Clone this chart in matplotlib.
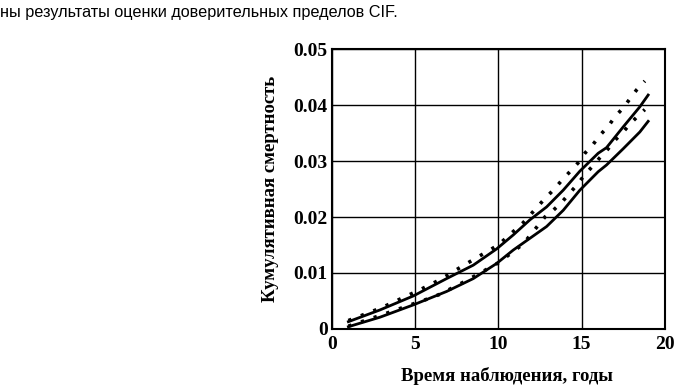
import matplotlib
matplotlib.use('Agg')
import matplotlib.pyplot as plt

# values
x_solid = [1.0, 2.9, 4.9, 6.9, 8.5, 9.9, 10.9, 11.9, 12.9, 13.9, 14.9, 16.0, 16.5, 17.5, 18.5, 19.0]
cif_upper = [0.0013, 0.0034, 0.0059, 0.0090, 0.0114, 0.0143, 0.0168, 0.0195, 0.0218, 0.0248,
             0.0282, 0.0314, 0.0324, 0.0361, 0.0397, 0.0418]
cif_lower = [0.0004, 0.0021, 0.0043, 0.0067, 0.0090, 0.0117, 0.0141, 0.0162, 0.0183, 0.0212,
             0.0248, 0.0281, 0.0293, 0.0322, 0.0352, 0.0371]

x_dot = [1.0, 3.0, 5.3, 5.9, 6.5, 8.0, 10.0, 11.5, 12.8, 13.3, 13.8, 14.3, 14.8, 15.2, 15.7,
         16.1, 16.6, 17.0, 17.5, 17.9, 18.3, 18.8]
dot_upper = [0.0015, 0.0038, 0.0070, 0.0079, 0.0088, 0.0115, 0.0150, 0.0190, 0.0233, 0.0248,
             0.0265, 0.0281, 0.0297, 0.0314, 0.0330, 0.0346, 0.0362, 0.0379, 0.0395, 0.0411,
             0.0427, 0.0443]
dot_lower = [0.0005, 0.0025, 0.0049, 0.0055, 0.0062, 0.0085, 0.0118, 0.0152, 0.0200, 0.0212,
             0.0226, 0.0243, 0.0260, 0.0276, 0.0292, 0.0306, 0.0322, 0.0337, 0.0352, 0.0366,
             0.0378, 0.0392]

xticks = [0, 5, 10, 15, 20]
yticks = [0, 0.01, 0.02, 0.03, 0.04, 0.05]
ytick_labels = ['0', '0.01', '0.02', '0.03', '0.04', '0.05']

fig = plt.figure(figsize=(6.77, 3.87), dpi=100)
ax = fig.add_axes([0.490, 0.150, 0.492, 0.723])

ax.plot(x_solid, cif_upper, color='black', linewidth=2.0)
ax.plot(x_solid, cif_lower, color='black', linewidth=2.0)
ax.plot(x_dot, dot_upper, color='black', linewidth=2.6, linestyle=(0, (0.9, 2.8)))
ax.plot(x_dot, dot_lower, color='black', linewidth=2.6, linestyle=(0, (0.9, 2.8)))

ax.set_xlim(0, 20)
ax.set_ylim(0, 0.05)
ax.set_xticks(xticks)
ax.set_yticks(yticks)
ax.set_yticklabels(ytick_labels)
ax.grid(True, color='black', linewidth=1.0)
ax.tick_params(axis='y', length=0, pad=3)
ax.tick_params(axis='x', length=0, pad=5)
for lab in ax.get_xticklabels() + ax.get_yticklabels():
    lab.set_fontfamily('Liberation Serif')
    lab.set_fontweight('bold')
    lab.set_fontsize(14)
for sp in ax.spines.values():
    sp.set_linewidth(1.5)

ax.set_xlabel('Время наблюдения, годы', fontfamily='Liberation Serif',
              fontweight='bold', fontsize=13.5)
ax.xaxis.set_label_coords(0.527, -0.135)
ax.set_ylabel('Кумулятивная смертность', fontfamily='Liberation Serif',
              fontweight='bold', fontsize=13.5, labelpad=10)

fig.text(0.0, 0.968, 'ны результаты оценки доверительных пределов CIF.',
         fontfamily='Liberation Sans', fontsize=11.7, va='center', ha='left')

fig.savefig('out.png', dpi=100)
